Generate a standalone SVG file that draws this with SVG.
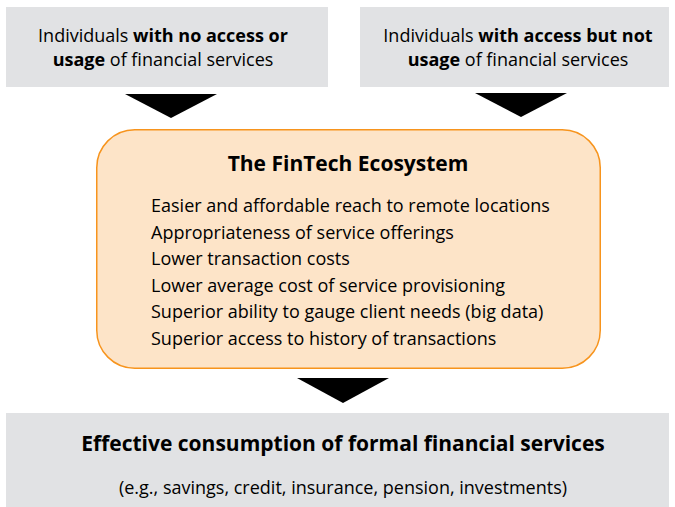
<svg xmlns="http://www.w3.org/2000/svg" width="675" height="507" viewBox="0 0 675 507">
<style>
.gray{fill:#e1e2e4}
.t{font-family:"Open Sans","Noto Sans","Liberation Sans",sans-serif;fill:#000}
.b{font-weight:bold}
.top{font-size:18px}
.item{font-size:18px}
.arrow{fill:#000}
</style>
<g id="connectors">
<polygon class="arrow" points="125,94 217,94 171,118"/>
<polygon class="arrow" points="475,93 567,93 521,117"/>
<polygon class="arrow" points="297,378 389,378 343,403"/>
</g>
<g id="node-no-access">
<rect class="gray" x="6" y="7" width="322" height="80"/>
<text class="t top" x="163" y="41.5" text-anchor="middle">Individuals <tspan class="b">with no access or</tspan></text>
<text class="t top" x="163" y="66" text-anchor="middle"><tspan class="b">usage</tspan> of financial services</text>
</g>
<g id="node-access-no-usage">
<rect class="gray" x="360" y="7" width="309" height="80"/>
<text class="t top" x="518" y="41.5" text-anchor="middle">Individuals <tspan class="b">with access but not</tspan></text>
<text class="t top" x="518" y="66" text-anchor="middle"><tspan class="b">usage</tspan> of financial services</text>
</g>
<g id="node-fintech">
<rect x="96.75" y="129.75" width="503.5" height="238.5" rx="38" ry="38" fill="#fde4c8" stroke="#f7941d" stroke-width="1.5"/>
<text class="t b" x="348" y="171" text-anchor="middle" font-size="21">The FinTech Ecosystem</text>
<text class="t item" x="151" y="212">Easier and affordable reach to remote locations</text>
<text class="t item" x="151" y="239">Appropriateness of service offerings</text>
<text class="t item" x="151" y="265">Lower transaction costs</text>
<text class="t item" x="151" y="292">Lower average cost of service provisioning</text>
<text class="t item" x="151" y="318">Superior ability to gauge client needs (big data)</text>
<text class="t item" x="151" y="345">Superior access to history of transactions</text>
</g>
<g id="node-effective">
<rect class="gray" x="6" y="413" width="663" height="94"/>
<text class="t b" x="343" y="451" text-anchor="middle" font-size="21">Effective consumption of formal financial services</text>
<text class="t" x="343" y="494" text-anchor="middle" font-size="18">(e.g., savings, credit, insurance, pension, investments)</text>
</g>
</svg>
